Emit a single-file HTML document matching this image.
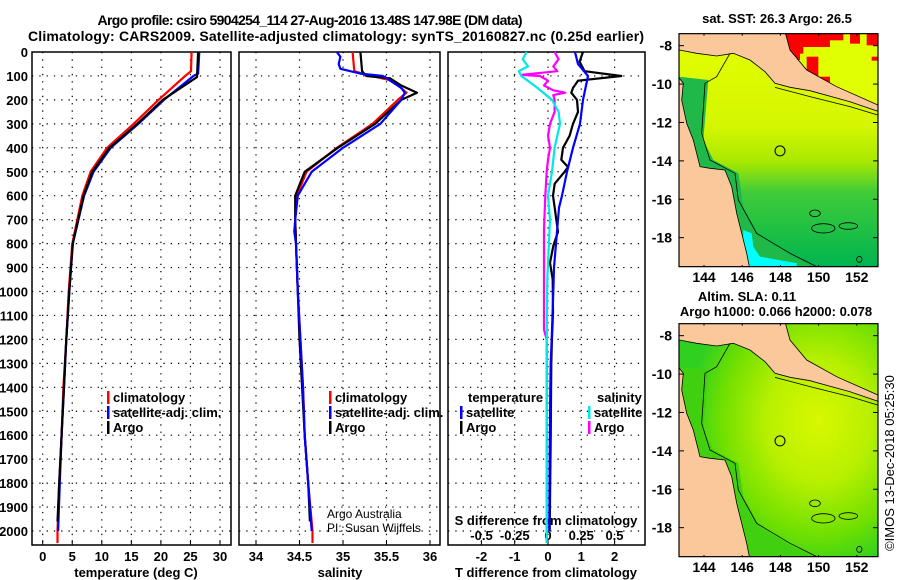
<!DOCTYPE html>
<html><head><meta charset="utf-8"><style>
body{margin:0;background:#fff}
svg{display:block;font-family:"Liberation Sans",sans-serif}
.b{font-weight:bold}
</style></head><body>
<svg id="c" width="900" height="580" viewBox="0 0 900 580">
<defs>
<linearGradient id="sst" x1="0" y1="0" x2="0" y2="1">
<stop offset="0" stop-color="#e4ff00"/><stop offset="0.4" stop-color="#d4f600"/><stop offset="0.55" stop-color="#a8e800"/><stop offset="0.68" stop-color="#40cc38"/><stop offset="1" stop-color="#00b450"/>
</linearGradient>
<radialGradient id="sla" cx="0.7" cy="0.42" r="0.65">
<stop offset="0" stop-color="#d8f800"/><stop offset="0.4" stop-color="#b8f000"/><stop offset="0.75" stop-color="#70e000"/><stop offset="1" stop-color="#30d020"/>
</radialGradient>
<clipPath id="m1c"><rect x="679" y="34" width="199" height="233"/></clipPath>
<clipPath id="m2c"><rect x="679" y="324" width="199" height="233"/></clipPath>
</defs>
<text x="310" y="25" text-anchor="middle" class="b" font-size="14" textLength="425">Argo profile: csiro 5904254_114 27-Aug-2016 13.48S 147.98E (DM data)</text>
<text x="336" y="41" text-anchor="middle" class="b" font-size="14" textLength="616">Climatology: CARS2009. Satellite-adjusted climatology: synTS_20160827.nc (0.25d earlier)</text>
<g id="plots"></g>
<g id="maps"></g>
</svg>
<script>
// ---------- data ----------
const depthTicks = [0,100,200,300,400,500,600,700,800,900,1000,1100,1200,1300,1400,1500,1600,1700,1800,1900,2000];
const tempTicks = [0,5,10,15,20,25,30];
const salTicks = [34,34.5,35,35.5,36];
const salTickLabels = ["34","34.5","35","35.5","36"];
const tdTicks = [-2,-1,0,1,2];
const sdTicks = [-0.5,-0.25,0,0.25,0.5];
const sdTickLabels = ["-0.5","-0.25","0","0.25","0.5"];

const tClimDepth = [0,80,100,200,300,400,500,600,800,1000,1200,1400,1600,1800,2000,2050];
const tClim = [25.2,25.1,24.1,19.6,15.4,10.9,8.1,6.7,5.0,4.4,4.0,3.5,3.2,2.8,2.5,2.5];
const tSatDepth = [0,90,100,200,300,400,500,600,800,1000,1200,1400,1600,1800,2000];
const tSat = [26.5,26.3,25.5,20.5,16.2,11.5,8.6,7.0,5.1,4.5,4.0,3.6,3.2,2.9,2.6];
const tArgoDepth = [0,105,200,300,400,500,600,800,1000,1200,1400,1600,1800,1960];
const tArgo = [26.3,26.1,20.3,16.0,11.3,8.4,6.9,5.1,4.5,4.0,3.6,3.2,2.8,2.5];

const sClimDepth = [0,80,95,120,170,200,300,400,500,600,700,800,1000,1200,1400,1600,1800,2000,2050];
const sClim = [35.11,35.13,35.27,35.57,35.73,35.63,35.34,34.93,34.58,34.47,34.45,34.46,34.48,34.51,34.54,34.56,34.6,34.65,34.65];
const sSatDepth = [0,20,50,70,90,100,150,170,200,300,400,500,600,700,750,800,1000,1200,1400,1600,1800,2000];
const sSat = [34.93,34.97,34.95,34.97,35.2,35.46,35.67,35.71,35.67,35.43,35.0,34.64,34.48,34.45,34.44,34.46,34.48,34.51,34.54,34.56,34.6,34.64];
const sArgoDepth = [0,80,100,110,140,170,190,200,300,400,500,600,700,800,1000,1200,1400,1600,1800,1960];
const sArgo = [35.2,35.22,35.27,35.54,35.67,35.85,35.73,35.67,35.37,34.94,34.56,34.45,34.45,34.46,34.48,34.5,34.53,34.56,34.6,34.62];

const dtSatDepth = [0,50,100,200,300,400,500,600,650,700,800,900,1000,1200,1300,1400,1700,2000];
const dtSat = [0.81,0.9,1.2,1.05,0.96,0.75,0.57,0.42,0.33,0.3,0.24,0.18,0.16,0.11,0.08,0.07,0.05,0.04];
const dtArgoDepth = [0,40,80,100,120,150,170,200,250,300,350,400,450,480,500,550,600,650,700,750,810,880,950,1090,1190,1300,1600,2000];
const dtArgo = [1.05,0.95,1.1,2.2,0.9,0.75,0.7,0.87,0.9,0.75,0.65,0.45,0.4,0.6,0.5,0.2,0.15,0.2,0.25,0.3,0.16,0.06,0.14,0.15,0.12,0.1,0.08,0.05];
const dsSatDepth = [0,30,60,80,100,150,200,250,300,400,500,600,700,950,1230,2050];
const dsSat = [-0.16,-0.19,-0.15,-0.22,-0.2,-0.08,0.03,0.08,0.09,0.05,0.03,0.0,0.015,-0.005,-0.01,-0.01];
const dsArgoDepth = [0,30,60,80,95,100,120,140,160,170,180,200,250,300,350,400,450,500,600,740,1160,1200,2050];
const dsArgo = [0.05,0.08,0.04,0.07,-0.2,-0.06,0.0,-0.03,0.04,0.13,0.04,0.05,0.05,0.015,0.0,0.015,0.0,-0.01,-0.02,-0.03,-0.03,-0.01,-0.01];

const mapLonTicks = [144,146,148,150,152];
const mapLatTicks = [-8,-10,-12,-14,-16,-18];
const floatLon = 147.98, floatLat = -13.48;

// ---------- helpers ----------
const NS = "http://www.w3.org/2000/svg";
function mk(tag, attrs, parent){const e=document.createElementNS(NS,tag);for(const k in attrs)e.setAttribute(k,attrs[k]);parent.appendChild(e);return e;}
const TOP=52, BOT=545;
const yD = d => TOP + d*0.2395;
const plots = document.getElementById('plots');

const panels = [
 {name:'temperature', x0:32, x1:231, fx:v=>42.7+v*5.91},
 {name:'salinity', x0:239, x1:440, fx:v=>256+(v-34)*87},
 {name:'difference', x0:448, x1:645, fx:v=>548+v*33.3}
];
const fS = v => 548+v*133;

function line(pn, depths, vals, fx, color, name){
  let d='';
  for(let i=0;i<depths.length;i++){d+=(i?'L':'M')+fx(vals[i]).toFixed(1)+','+yD(depths[i]).toFixed(1);}
  const p=mk('path',{d:d,fill:'none',stroke:color,'stroke-width':2.2,'stroke-linejoin':'round'},pn);
  
  
}
function txt(s,x,y,attrs,parent,name){
  const t=mk('text',Object.assign({x:x,y:y,'font-size':13},attrs),parent);t.textContent=s;
  
  
  return t;
}

panels.forEach((P,pi)=>{
  const g=mk('g',{},plots);
  
  
  depthTicks.forEach(d=>{ if(d>0) mk('line',{x1:P.x0,x2:P.x1,y1:yD(d),y2:yD(d),stroke:'#000','stroke-width':1.2,'stroke-dasharray':'1.3,6'},g);});
  const vt = pi===0?tempTicks:pi===1?salTicks:tdTicks;
  vt.forEach(v=>{ const x=P.fx(v); mk('line',{x1:x,x2:x,y1:TOP,y2:BOT,stroke:'#000','stroke-width':1.2,'stroke-dasharray':'1.3,6'},g);
    mk('line',{x1:x,x2:x,y1:BOT,y2:BOT-5,stroke:'#000'},g);});
  const fr=mk('rect',{x:P.x0,y:TOP,width:P.x1-P.x0,height:BOT-TOP,fill:'none',stroke:'#000','stroke-width':1.5},g);
  
  
});

depthTicks.forEach(d=>txt(String(d),28,yD(d)+5,{'text-anchor':'end',class:'b'},plots,'depth-tick-label'));
tempTicks.forEach(v=>txt(String(v),panels[0].fx(v),561,{'text-anchor':'middle',class:'b'},plots,'temperature-tick-label'));
salTicks.forEach((v,i)=>txt(salTickLabels[i],panels[1].fx(v),561,{'text-anchor':'middle',class:'b'},plots,'salinity-tick-label'));
tdTicks.forEach(v=>txt(String(v),panels[2].fx(v),561,{'text-anchor':'middle',class:'b'},plots,'t-difference-tick-label'));
sdTicks.forEach((v,i)=>txt(sdTickLabels[i],fS(v),540,{'text-anchor':'middle',class:'b'},plots,'s-difference-tick-label'));
txt('temperature (deg C)',136,577,{'text-anchor':'middle',class:'b'},plots,'temperature-axis-title');
txt('salinity',340,577,{'text-anchor':'middle',class:'b'},plots,'salinity-axis-title');
txt('T difference from climatology',546,577,{'text-anchor':'middle',class:'b'},plots,'t-difference-axis-title');
txt('S difference from climatology',546,525,{'text-anchor':'middle',class:'b'},plots,'s-difference-axis-title');
txt('Argo Australia',327,518,{'font-size':12},plots,'credit-argo-australia');
txt('PI: Susan Wijffels',327,532,{'font-size':12},plots,'credit-pi');

const gp=panels;
line(plots,tClimDepth,tClim,gp[0].fx,'#ff0000','temperature-climatology-line');
line(plots,tSatDepth,tSat,gp[0].fx,'#0000ff','temperature-satellite-line');
line(plots,tArgoDepth,tArgo,gp[0].fx,'#000000','temperature-argo-line');
line(plots,sClimDepth,sClim,gp[1].fx,'#ff0000','salinity-climatology-line');
line(plots,sArgoDepth,sArgo,gp[1].fx,'#000000','salinity-argo-line');
line(plots,sSatDepth,sSat,gp[1].fx,'#0000ff','salinity-satellite-line');
line(plots,dsArgoDepth,dsArgo,fS,'#ff00ff','s-diff-argo-line');
line(plots,dsSatDepth,dsSat,fS,'#00e8e8','s-diff-satellite-line');
line(plots,dtArgoDepth,dtArgo,gp[2].fx,'#000000','t-diff-argo-line');
line(plots,dtSatDepth,dtSat,gp[2].fx,'#0000ff','t-diff-satellite-line');

function legEntry(x,y,color,label,name){
  const g=mk('g',{},plots);
  
  
  mk('rect',{x:x,y:y-11,width:2.5,height:13,fill:color},g);
  const t=mk('text',{x:x+6,y:y,'font-size':13,class:'b'},g);t.textContent=label;
}
[['#ff0000','climatology'],['#0000ff','satellite-adj. clim.'],['#000000','Argo']].forEach((e,i)=>{
  legEntry(107,402+i*15,e[0],e[1],'temp-legend-'+i);
  legEntry(329,402+i*15,e[0],e[1],'sal-legend-'+i);
});
txt('temperature',468,402,{class:'b'},plots,'legend-temperature-header');
txt('salinity',597,402,{class:'b'},plots,'legend-salinity-header');
legEntry(460,417,'#0000ff','satellite','legend-t-satellite');
legEntry(460,432,'#000000','Argo','legend-t-argo');
legEntry(588,417,'#00e8e8','satellite','legend-s-satellite');
legEntry(588,432,'#ff00ff','Argo','legend-s-argo');

// ---------- maps ----------
const maps=document.getElementById('maps');
function drawMap(y0, fillId, clip, name, extra, coastGreen){
  const g=mk('g',{},maps);
  
  
  const X=zx=>650+zx/3, Y=zy=>y0+zy/3;
  const cg=mk('g',{'clip-path':'url(#'+clip+')'},g);
  const poly=(pts,fill,stroke)=>mk('polygon',{points:pts.map(q=>X(q[0]).toFixed(1)+','+Y(q[1]).toFixed(1)).join(' '),fill:fill,stroke:stroke||'none','stroke-width':0.8},cg);
  mk('rect',{x:679,y:Y(101),width:199,height:233,fill:'url(#'+fillId+')'},cg);
  // coastal green band
  poly([[88,230],[175,240],[160,420],[190,480],[265,520],[280,620],[330,710],[430,770],[500,805],[300,805],[88,805]],coastGreen);
  if(extra) extra(cg,X,Y,poly);
  // top-left land (PNG south coast)
  poly([[80,95],[405,95],[420,150],[470,210],[560,260],[690,318],[690,336],[600,305],[480,272],[420,262],[375,250],[345,215],[300,180],[250,160],[200,168],[140,160],[88,150],[80,150]],'#fac89a','#000');
  // left land (Cape York)
  poly([[80,225],[100,250],[95,300],[110,370],[130,420],[150,500],[180,505],[225,510],[245,560],[260,640],[275,700],[290,760],[300,810],[80,810]],'#fac89a','#000');
  mk('path',{d:'M'+X(240)+','+Y(160)+' L'+X(200)+','+Y(230)+' L'+X(165)+','+Y(250)+' L'+X(155)+','+Y(400)+' L'+X(180)+','+Y(480)+' L'+X(255)+','+Y(520)+' L'+X(265)+','+Y(600)+' L'+X(320)+','+Y(700)+' L'+X(420)+','+Y(760)+' L'+X(500)+','+Y(800),fill:'none',stroke:'#000','stroke-width':0.8},cg);
  mk('path',{d:'M'+X(375)+','+Y(262)+' L'+X(480)+','+Y(290)+' L'+X(600)+','+Y(320)+' L'+X(683)+','+Y(345),fill:'none',stroke:'#000','stroke-width':0.8},cg);
  [[520,685,35,14],[595,678,28,10],[495,640,16,10],[628,778,8,9]].forEach(r=>mk('ellipse',{cx:X(r[0]),cy:Y(r[1]),rx:r[2]/3,ry:r[3]/3,fill:'none',stroke:'#000','stroke-width':0.8},cg));
  const fxm=lon=>704+(lon-144)*19.1, fym=lat=>Y(137)+(-8-lat)*19.2;
  const c=mk('circle',{cx:fxm(floatLon),cy:fym(floatLat),r:5,fill:'none',stroke:'#000','stroke-width':1},g);
  
  
  mk('rect',{x:679,y:Y(101),width:199,height:233,fill:'none',stroke:'#000','stroke-width':1.2},g);
  mapLonTicks.forEach(v=>{const x=fxm(v);mk('line',{x1:x,x2:x,y1:Y(801),y2:Y(795),stroke:'#000'},g);mk('line',{x1:x,x2:x,y1:Y(101),y2:Y(107),stroke:'#000'},g);
    txt(String(v),x,Y(846),{'text-anchor':'middle',class:'b','font-size':14},g,'map-lon-label');});
  mapLatTicks.forEach(v=>{const y=fym(v);mk('line',{x1:679,x2:684,y1:y,y2:y,stroke:'#000'},g);mk('line',{x1:873,x2:878,y1:y,y2:y,stroke:'#000'},g);
    txt(String(v),672,y+5,{'text-anchor':'end',class:'b','font-size':14},g,'map-lat-label');});
}
drawMap(0,'sst','m1c','sst-map',(cg,X,Y,poly)=>{
  poly([[405,95],[690,95],[690,320],[560,262],[470,212],[420,152]],'#e0ff00');
  [[400,101,60,60],[450,101,90,40],[470,170,35,60],[510,230,30,25],[540,101,40,20],[600,101,30,30],[650,101,33,35],[665,170,18,12],[420,140,30,40]].forEach(r=>mk('rect',{x:X(r[0]),y:Y(r[1]),width:r[2]/3,height:r[3]/3,fill:'#ff0000'},cg));
  poly([[280,690],[305,700],[310,740],[330,770],[440,790],[440,810],[300,810],[280,740]],'#00ffff');
},'#20b848');
drawMap(290,'sla','m2c','sla-map',null,'#40d010');

txt('sat. SST: 26.3 Argo: 26.5',777,23,{'text-anchor':'middle',class:'b','font-size':13},maps,'sst-map-title');
txt('Altim. SLA: 0.11',747,301,{'text-anchor':'middle',class:'b','font-size':13},maps,'sla-map-title');
txt('Argo h1000: 0.066 h2000: 0.078',776,316,{'text-anchor':'middle',class:'b','font-size':13},maps,'sla-map-subtitle');
txt('©IMOS 13-Dec-2018 05:25:30',894,463,{'text-anchor':'middle','font-size':13,transform:'rotate(-90 894 463)'},maps,'imos-timestamp');
</script>
</body></html>
